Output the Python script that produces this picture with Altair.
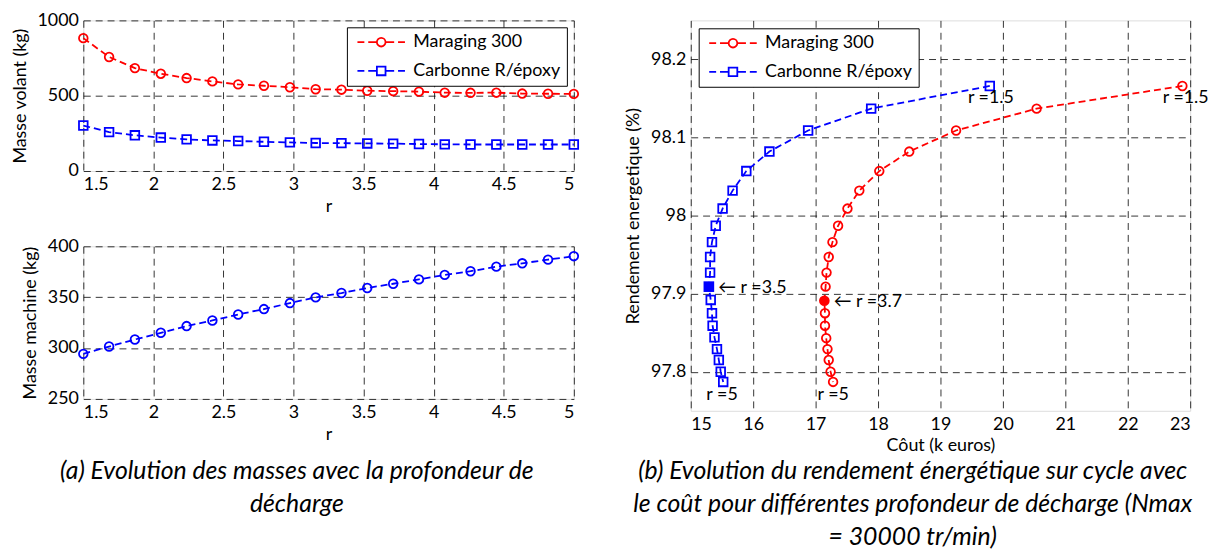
import altair as alt
import pandas as pd

# ---------------- data ----------------
r_values = [1.5, 1.684, 1.868, 2.053, 2.237, 2.421, 2.605, 2.789, 2.974, 3.158,
            3.342, 3.526, 3.711, 3.895, 4.079, 4.263, 4.447, 4.632, 4.816, 5.0]

masse_volant_maraging = [882, 757, 683, 646, 617, 595, 575, 566, 556, 543,
                         540, 533, 530, 527, 520, 519, 520, 514, 513, 512]
masse_volant_carbonne = [302, 258, 237, 222, 210, 203, 199, 194, 190, 186,
                         185, 183, 182, 179, 177, 176, 176, 176, 176, 176]
masse_machine = [294.3, 301.5, 308.4, 315.0, 321.6, 327.1, 333.0, 338.3, 344.2, 349.8,
                 354.1, 359.0, 363.2, 367.5, 371.9, 375.5, 380.0, 383.3, 386.9, 390.3]

cout_maraging = [22.875, 20.54, 19.25, 18.50, 18.02, 17.70, 17.51, 17.36, 17.27, 17.21,
                 17.175, 17.16, 17.14, 17.15, 17.15, 17.17, 17.19, 17.21, 17.24, 17.28]
rend_maraging = [98.166, 98.137, 98.109, 98.082, 98.057, 98.032, 98.009, 97.987, 97.966, 97.947,
                 97.927, 97.909, 97.891, 97.875, 97.859, 97.843, 97.829, 97.815, 97.800, 97.787]
cout_carbonne = [19.79, 17.89, 16.88, 16.26, 15.89, 15.67, 15.51, 15.40, 15.34, 15.31,
                 15.31, 15.29, 15.32, 15.34, 15.35, 15.38, 15.42, 15.45, 15.48, 15.52]
rend_carbonne = [98.166, 98.137, 98.109, 98.082, 98.057, 98.032, 98.009, 97.987, 97.966, 97.947,
                 97.927, 97.909, 97.892, 97.875, 97.859, 97.844, 97.829, 97.815, 97.800, 97.787]

series_names = ["Maraging 300", "Carbonne R/époxy"]
series_colors = ["#ff0000", "#0000ff"]
series_shapes = ["circle", "square"]
highlight_index = {"Maraging 300": 12, "Carbonne R/époxy": 11}

ann_text = ["r =1.5", "r =1.5", "r =5", "r =5", "\u2190 r =3.5", "\u2190 r =3.7"]
ann_x = [19.44, 22.56, 15.25, 17.03, 15.44, 17.29]
ann_y = [98.151, 98.151, 97.770, 97.770, 97.907, 97.889]

x_ticks_r = [1.5, 2, 2.5, 3, 3.5, 4, 4.5, 5]
y_ticks_volant = [0, 500, 1000]
y_ticks_machine = [250, 300, 350, 400]
x_ticks_cout = [15, 16, 17, 18, 19, 20, 21, 22, 23]
y_ticks_rend = [97.8, 97.9, 98.0, 98.1, 98.2]

caption_a = ["(a) Evolution des masses avec la profondeur de", "décharge"]
caption_b = ["(b) Evolution du rendement énergétique sur cycle avec",
             "le coût pour différentes profondeur de décharge (Nmax",
             "= 30000 tr/min)"]

# ---------------- tables ----------------
FONT = "Lato"
FS = 18
CAP_FS = 25
CAP_LH = 33

rows_v = []
for i, r in enumerate(r_values):
    rows_v.append(dict(i=i, r=r, m=masse_volant_maraging[i], series=series_names[0],
                       col=series_colors[0], shp=series_shapes[0]))
    rows_v.append(dict(i=i, r=r, m=masse_volant_carbonne[i], series=series_names[1],
                       col=series_colors[1], shp=series_shapes[1]))
df_v = pd.DataFrame(rows_v)

df_m = pd.DataFrame(dict(i=list(range(len(r_values))), r=r_values, m=masse_machine))

rows_c = []
for i in range(len(r_values)):
    rows_c.append(dict(i=i, cout=cout_maraging[i], rend=rend_maraging[i], series=series_names[0],
                       col=series_colors[0], shp=series_shapes[0],
                       hl=(i == highlight_index[series_names[0]])))
    rows_c.append(dict(i=i, cout=cout_carbonne[i], rend=rend_carbonne[i], series=series_names[1],
                       col=series_colors[1], shp=series_shapes[1],
                       hl=(i == highlight_index[series_names[1]])))
df_c = pd.DataFrame(rows_c)
df_ann = pd.DataFrame(dict(t=ann_text, x=ann_x, y=ann_y))

# legend symbol paths: dashed line with marker in the middle
dash = "M-1,0H0.6M1.5,0H3.5M5.5,0H7.5M8.4,0H10"
circle_path = dash + "M5.5,0A1,1,0,1,1,3.5,0A1,1,0,1,1,5.5,0Z"
square_path = dash + "M3.5,-1H5.5V1H3.5Z"

MSIZE = 76
LW = 1.8
DASH = [7, 4]


def axis(values, title, **kw):
    return alt.Axis(values=values, title=title, labelExpr="format(datum.value, '~f')",
                    grid=True, ticks=False,
                    domain=False, gridColor="black", gridDash=[7, 5], gridWidth=0.8,
                    gridOpacity=1, labelFont=FONT, labelFontSize=FS, labelColor="black",
                    titleFont=FONT, titleFontSize=FS, titleFontWeight="normal",
                    titleColor="black", labelPadding=5, **kw)


def legend_layer(data, orient, offset):
    leg = alt.Legend(title=None, orient=orient, offset=offset, fillColor="white",
                     strokeColor="black", padding=6, labelFont=FONT, labelFontSize=FS,
                     labelColor="black", symbolSize=MSIZE, symbolStrokeWidth=LW,
                     labelOffset=43, rowPadding=11, labelLimit=400)
    return alt.Chart(data).transform_filter("false").mark_point(filled=False, strokeWidth=LW).encode(
        color=alt.Color("series:N", scale=alt.Scale(domain=series_names, range=series_colors), legend=leg),
        shape=alt.Shape("series:N", scale=alt.Scale(domain=series_names, range=[circle_path, square_path]), legend=leg),
    )


def independent(c):
    return c.resolve_scale(color="independent", shape="independent").resolve_legend(
        color="independent", shape="independent")


def caption(lines, offset, dx):
    return alt.TitleParams(text=lines, orient="bottom", anchor="middle", frame="group",
                           font=FONT, fontStyle="italic", fontWeight="normal", fontSize=CAP_FS,
                           lineHeight=CAP_LH, offset=offset, dx=dx, color="black")


# ---------------- top-left: masse volant ----------------
xr = alt.X("r:Q", scale=alt.Scale(domain=[1.5, 5], nice=False, zero=False),
           axis=axis(x_ticks_r, "r", titlePadding=4))
base_v = alt.Chart(df_v).encode(
    x=xr,
    y=alt.Y("m:Q", scale=alt.Scale(domain=[0, 1000], nice=False),
            axis=axis(y_ticks_volant, "Masse volant (kg)", titlePadding=8)),
)
lines_v = base_v.mark_line(strokeDash=DASH, strokeWidth=LW).encode(
    color=alt.Color("col:N", scale=None), detail="series:N", order="i:Q")
pts_v = base_v.mark_point(filled=False, size=MSIZE, strokeWidth=LW, opacity=1).encode(
    color=alt.Color("col:N", scale=None), shape=alt.Shape("shp:N", scale=None))
top = alt.layer(lines_v, pts_v, legend_layer(df_v, "top-right", 7)).properties(width=495, height=152)

# ---------------- bottom-left: masse machine ----------------
base_m = alt.Chart(df_m).encode(
    x=xr,
    y=alt.Y("m:Q", scale=alt.Scale(domain=[250, 400], nice=False, zero=False),
            axis=axis(y_ticks_machine, "Masse machine (kg)", titlePadding=8)),
)
lines_m = base_m.mark_line(strokeDash=DASH, strokeWidth=LW, color=series_colors[1]).encode(order="i:Q")
pts_m = base_m.mark_point(filled=False, size=MSIZE, strokeWidth=LW, opacity=1,
                          color=series_colors[1], shape="circle")
bottom = alt.layer(lines_m, pts_m).properties(
    width=495, height=154, title=caption(caption_a, 16, -32))

left = independent(alt.vconcat(top, bottom, spacing=20))

# ---------------- right: rendement vs cout ----------------
base_c = alt.Chart(df_c).encode(
    x=alt.X("cout:Q", scale=alt.Scale(domain=[15, 23], nice=False, zero=False),
            axis=axis(x_ticks_cout, "Côut (k euros)", titlePadding=3)),
    y=alt.Y("rend:Q", scale=alt.Scale(domain=[97.75, 98.25], nice=False, zero=False),
            axis=axis(y_ticks_rend, "Rendement energetique (%)", titlePadding=8)),
)
lines_c = base_c.mark_line(strokeDash=DASH, strokeWidth=LW).encode(
    color=alt.Color("col:N", scale=None), detail="series:N", order="i:Q")
pts_c = base_c.transform_filter("!datum.hl").mark_point(
    filled=False, size=MSIZE, strokeWidth=LW, opacity=1).encode(
    color=alt.Color("col:N", scale=None), shape=alt.Shape("shp:N", scale=None))
hl_c = base_c.transform_filter("datum.hl").mark_point(
    filled=True, size=115, opacity=1).encode(
    color=alt.Color("col:N", scale=None), shape=alt.Shape("shp:N", scale=None))
ann = alt.Chart(df_ann).mark_text(align="left", baseline="middle", font=FONT, fontSize=FS,
                                   color="black").encode(x="x:Q", y="y:Q", text="t:N")
right = alt.layer(lines_c, pts_c, hl_c, ann, legend_layer(df_c, "top-left", 8)).properties(
    width=504, height=394, title=caption(caption_b, 5, -28))

chart = independent(alt.hconcat(left, right, spacing=41)).properties(
    padding={"left": 2, "top": 0, "right": 0, "bottom": 0}
).configure_view(stroke="black", strokeWidth=1.5).configure(background="white")

chart.save("out.html", embed_options={"renderer": "svg", "actions": False})
